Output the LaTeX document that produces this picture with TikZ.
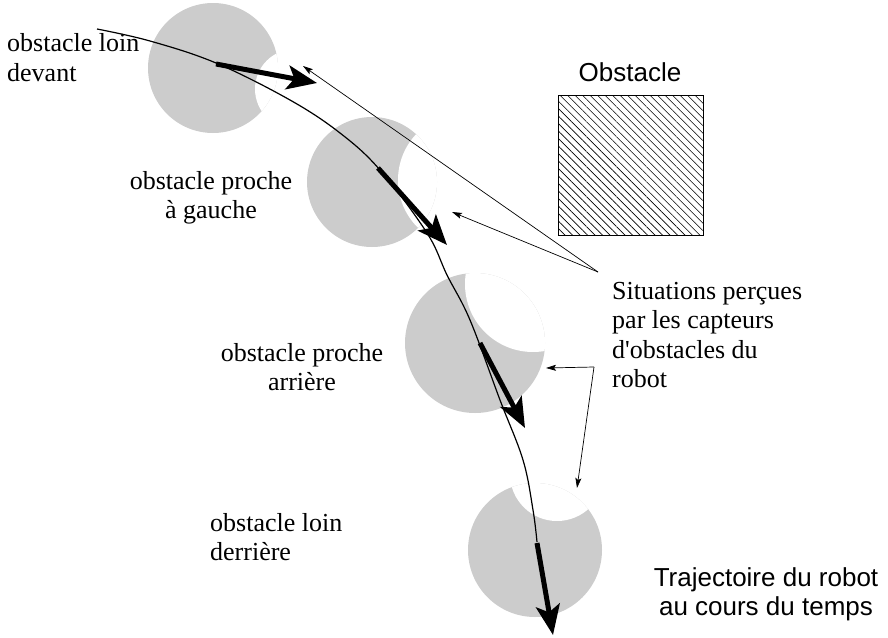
\documentclass[tikz,border=0pt]{standalone}
\usepackage{fontspec}
\setmainfont{Liberation Serif}
\setsansfont{Liberation Sans}
\usetikzlibrary{arrows.meta,patterns.meta}
\definecolor{robotgray}{HTML}{CCCCCC}
\begin{document}
\begin{tikzpicture}[x=1pt,y=-1pt]
        \tikzstyle{robot}=[fill=robotgray]
        \tikzstyle{notch}=[fill=white]
        \tikzstyle{trace}=[draw, line width=1.2pt]
        \tikzstyle{heading}=[draw, line width=5pt, -{Stealth[length=30pt,width=24pt,inset=7pt]}]
        \tikzstyle{pointer}=[draw, line width=0.7pt, -{Stealth[length=10pt,width=6pt,inset=2pt]}]
        \tikzstyle{label}=[font=\fontsize{26}{29.5}\selectfont, inner sep=0pt]
        \tikzstyle{sanslabel}=[font=\fontsize{26}{29.5}\selectfont\sffamily, inner sep=0pt]
        \tikzstyle{obstaclebox}=[draw, line width=0.8pt, minimum width=145pt, minimum height=140pt, pattern={Lines[angle=-45,distance=5.3pt,line width=0.6pt]}]
        \useasboundingbox (0,0) rectangle (888,637);
       \begin{scope}
         % robot seen at four times
         \fill[robot] (213,68) circle (65pt);
         \begin{scope} \clip (213,68) circle (65pt); \fill[notch] (295,89) circle (40pt); \end{scope}
         \fill[robot] (372,182) circle (65pt);
         \begin{scope} \clip (372,182) circle (65pt); \fill[notch] (465,180) circle (67pt); \end{scope}
         \fill[robot] (475,343) circle (70pt);
         \begin{scope} \clip (475,343) circle (70pt); \fill[notch] (533,284) circle (68pt); \end{scope}
         \fill[robot] (535,550) circle (67pt);
         \begin{scope} \clip (535,550) circle (67pt); \fill[notch] (557,474) circle (47pt); \end{scope}

         % trajectory
         \path[trace] plot[smooth, tension=0.6] coordinates {(97,29) (150,41) (216,63) (290,100) (340,133) (380,170) (427,233) (447,275) (470,320) (500,400) (523,460) (533,510) (537,542)};

         \coordinate (d1) at (216,64);  \coordinate (f1) at (317,83);
         \coordinate (d2) at (378,168); \coordinate (f2) at (447,245);
         \coordinate (d3) at (480,343); \coordinate (f3) at (525,428);
         \coordinate (d4) at (537,543); \coordinate (f4) at (553,635);
         \path[heading] (d1) -- (f1);
         \path[heading] (d2) -- (f2);
         \path[heading] (d3) -- (f3);
         \path[heading] (d4) -- (f4);

         \node [obstaclebox] (bloc) at (630.5,165) {};
         \node [sanslabel, anchor=base] (obst) at (630,81) {Obstacle};

         % base anchor = last line
         \node [label, align=left, anchor=base west] (loin1) at (7,81) {obstacle loin\\devant};
         \node [label, align=center, anchor=base] (proche1) at (211,218.5) {obstacle proche\\à gauche};
         \node [label, align=center, anchor=base] (proche2) at (302,390.5) {obstacle proche\\arrière};
         \node [label, align=left, anchor=base west] (loin2) at (210,560.5) {obstacle loin\\derrière};
         \node [label, align=left, anchor=base west] (situ) at (612,387.5) {Situations perçues\\par les capteurs\\d\textquotesingle obstacles du\\robot};
         \node [sanslabel, align=center, anchor=base] (trajet) at (766,615.5) {Trajectoire du robot\\au cours du temps};

         \coordinate (haut) at (598,272);
         \coordinate (bas) at (594,367);
         \coordinate (c1) at (303,66);
         \coordinate (c2) at (452,212);
         \coordinate (c3) at (546,368);
         \coordinate (c4) at (577,488);
         \path[pointer] (haut) -- (c1);
         \path[pointer] (haut) -- (c2);
         \path[pointer] (bas) -- (c3);
         \path[pointer] (bas) -- (c4);
        \end{scope}
      \end{tikzpicture}
\end{document}
